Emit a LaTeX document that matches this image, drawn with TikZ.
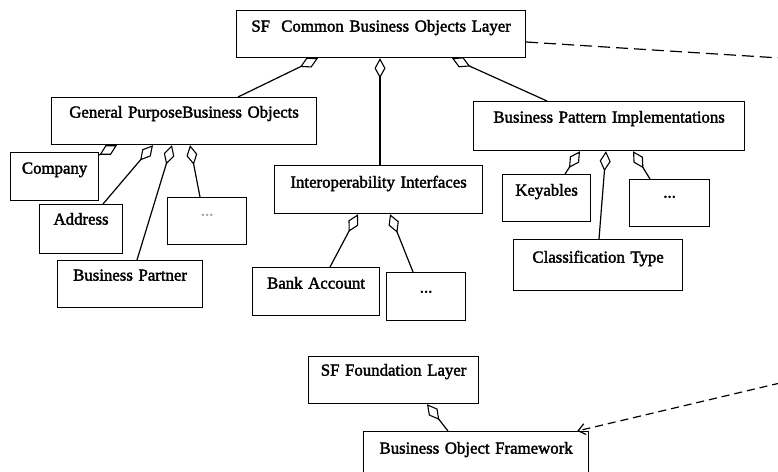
\documentclass[tikz,border=0pt]{standalone}
\usepackage{fontspec}
\setmainfont{Liberation Serif}[FakeBold=2]
\usetikzlibrary{arrows.meta}
\begin{document}
\begin{tikzpicture}[x=1pt,y=-1pt,
  ub/.style={draw, line width=1.2pt, inner sep=0pt, align=center, anchor=north west,
    font=\fontsize{16.8}{18}\selectfont},
  agg/.style={line width=1.2pt, -{Diamond[open,length=20pt,width=11pt,line width=1.1pt]}},
  dep/.style={line width=1.2pt, dash pattern=on 12pt off 6pt},
  depb/.style={line width=1.2pt, dash pattern=on 8pt off 5pt, -{Straight Barb[length=7pt,width=11pt]}}]
\useasboundingbox (0,0) rectangle (778,471);
\clip (0,0) rectangle (778,471);
% boxes
\node[ub, text width=289pt, text height=21pt, text depth=26pt] (sfc) at (236,10) {SF\ \ Common Business Objects Layer};
\node[ub, text width=265pt, text height=20pt, text depth=27pt] (gp) at (51,97) {General PurposeBusiness Objects};
\node[ub, text width=208pt, text height=22pt, text depth=26pt] (io) at (274,165) {Interoperability Interfaces};
\node[ub, text width=271pt, text height=21pt, text depth=28pt] (bpi) at (473,101) {Business Pattern Implementations};
\node[ub, text width=88pt, text height=21pt, text depth=27pt] (comp) at (10,152) {Company};
\node[ub, text width=83pt, text height=20pt, text depth=29pt] (addr) at (39,204) {Address};
\node[ub, text width=79pt, text height=18pt, text depth=29pt, text=black!35] (gpd) at (167,197) {...};
\node[ub, text width=145pt, text height=20pt, text depth=27pt] (bpart) at (57,260) {Business Partner};
\node[ub, text width=127pt, text height=21pt, text depth=27pt] (bank) at (252,267) {Bank Account};
\node[ub, text width=79pt, text height=20pt, text depth=28pt] (iod) at (386,272) {...};
\node[ub, text width=88pt, text height=21pt, text depth=26pt] (key) at (502,174) {Keyables};
\node[ub, text width=80pt, text height=18pt, text depth=29pt] (bpd) at (629,179) {...};
\node[ub, text width=169pt, text height=23pt, text depth=28pt] (cls) at (513,239) {Classification Type};
\node[ub, text width=170pt, text height=19pt, text depth=28pt] (sff) at (308,356) {SF Foundation Layer};
\node[ub, text width=225pt, text height=22pt, text depth=60pt] (bof) at (363,431) {Business Object Framework};
% aggregations
\draw[agg] ([xshift=187pt]gp.north west) -- ([xshift=82pt]sfc.south west);
\draw[agg] ([xshift=106pt]io.north west) -- ([xshift=144pt]sfc.south west);
\draw[agg] ([xshift=74pt]bpi.north west) -- ([xshift=216pt]sfc.south west);
\draw[agg] ([yshift=-3pt]comp.north east) -- ([xshift=66pt]gp.south west);
\draw[agg] ([xshift=64pt]addr.north west) -- ([xshift=102pt]gp.south west);
\draw[agg] ([xshift=80pt]bpart.north west) -- ([xshift=121pt]gp.south west);
\draw[agg] ([xshift=33pt]gpd.north west) -- ([xshift=139pt]gp.south west);
\draw[agg] ([xshift=78pt]bank.north west) -- ([xshift=84pt]io.south west);
\draw[agg] ([xshift=27pt]iod.north west) -- ([xshift=116pt]io.south west);
\draw[agg] ([xshift=63pt]key.north west) -- ([xshift=107pt]bpi.south west);
\draw[agg] ([xshift=86pt]cls.north west) -- ([xshift=133pt]bpi.south west);
\draw[agg] ([xshift=21pt]bpd.north west) -- ([xshift=160pt]bpi.south west);
\draw[agg] ([xshift=85pt]bof.north west) -- ([xshift=119pt]sff.south west);
% dependencies
\coordinate (e1) at (780,58);
\coordinate (e2) at (780,383);
\draw[dep] ([yshift=-32pt]sfc.north east) -- (e1);
\draw[depb] (e2) -- ([xshift=-12pt]bof.north east);
\end{tikzpicture}
\end{document}
